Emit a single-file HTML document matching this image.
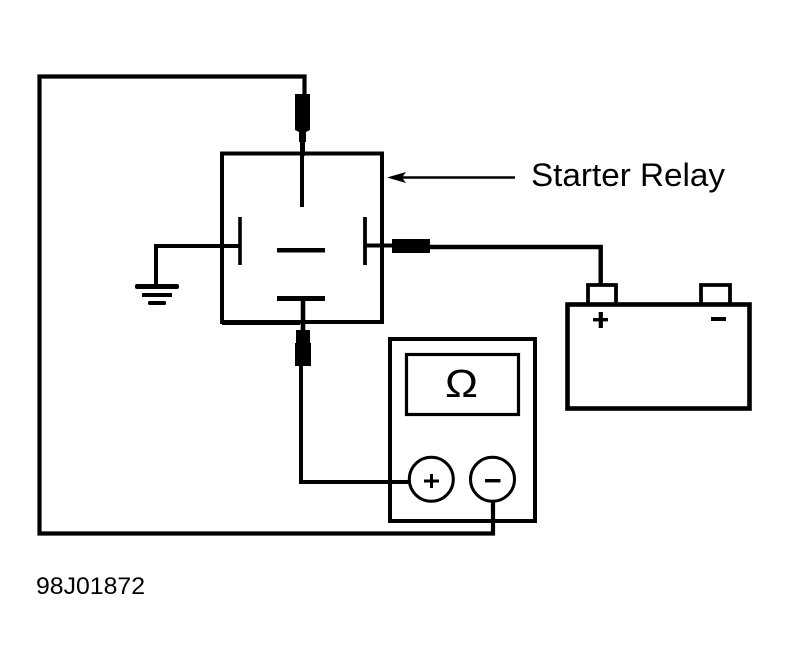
<!DOCTYPE html>
<html>
<head>
<meta charset="utf-8">
<style>
html,body{margin:0;padding:0;background:#fff;width:789px;height:670px;overflow:hidden}
svg{display:block}
text{font-family:"Liberation Sans",sans-serif;fill:#000}
</style>
</head>
<body>
<svg width="789" height="670" viewBox="0 0 789 670" xmlns="http://www.w3.org/2000/svg">
<g fill="none" stroke="#000" stroke-width="4">
<!-- long wire -->
<path d="M304.5 95V76.5H39.5V533.5H493V500" stroke-width="4.2"/>
<!-- relay -->
<path d="M222 153.5H382V322H222Z M222 323H300" stroke-width="4"/>
<path d="M302 150V207"/>
<path d="M240 217V265" stroke-width="3.6"/>
<path d="M365 217V265" stroke-width="3.8"/>
<path d="M156 246H240"/>
<path d="M156 244V286"/>
<path d="M365 245.5H394"/>
<path d="M428 247H600.7V285" stroke-width="4.4"/>
<path d="M303 298V332" stroke-width="4.6"/>
<path d="M301 362V482H410"/>
<!-- arrow line -->
<path d="M400 177.5H515" stroke-width="2.6"/>
<!-- battery -->
<rect x="567.5" y="304.5" width="182" height="104" stroke-width="4.6"/>
<path d="M588 304V285H616V304" stroke-width="3.8"/>
<path d="M701 304V285H730V304" stroke-width="3.8"/>
<!-- meter -->
<rect x="390" y="339" width="145" height="182"/>
<rect x="406.5" y="354.5" width="112" height="60" stroke-width="3.2"/>
<circle cx="431.3" cy="479.2" r="22" fill="#fff" stroke-width="3"/>
<circle cx="492.5" cy="479.2" r="22" fill="#fff" stroke-width="3"/>
</g>
<!-- relay bars -->
<rect x="277" y="248" width="48" height="4.5" fill="#000"/>
<rect x="277" y="296" width="48" height="5" fill="#000"/>
<!-- ground bars -->
<rect x="135" y="284" width="44" height="5" rx="2" fill="#000"/>
<rect x="142" y="293" width="30" height="4" fill="#000"/>
<rect x="148" y="301" width="18" height="4" rx="1.5" fill="#000"/>
<!-- connectors -->
<path d="M295 94H310V130L306 132V142H305V156H300V142H299V132L295 130Z" fill="#000"/>
<rect x="392" y="239" width="38" height="14" fill="#000"/>
<path d="M296 330H310V343H311V366H295V343H296Z" fill="#000"/>
<!-- arrowhead -->
<path d="M387 177.5L406 172L402 177.5L406 183Z" fill="#000"/>
<!-- plus minus on meter -->
<path d="M424 481H439M431.5 474V488" stroke="#000" stroke-width="3" fill="none"/>
<rect x="485" y="479" width="15.5" height="3.4" fill="#000"/>
<!-- battery signs -->
<rect x="593" y="318" width="15" height="3.4" fill="#000"/>
<rect x="598.7" y="312" width="4.2" height="16" fill="#000"/>
<rect x="711" y="317" width="15" height="4" fill="#000"/>
<!-- text -->
<text x="531" y="186" font-size="32.5" textLength="194" lengthAdjust="spacingAndGlyphs">Starter Relay</text>
<text x="445" y="397" font-size="39" textLength="33" lengthAdjust="spacingAndGlyphs">Ω</text>
<text x="36" y="594" font-size="24" textLength="109" lengthAdjust="spacingAndGlyphs">98J01872</text>
</svg>
</body>
</html>
